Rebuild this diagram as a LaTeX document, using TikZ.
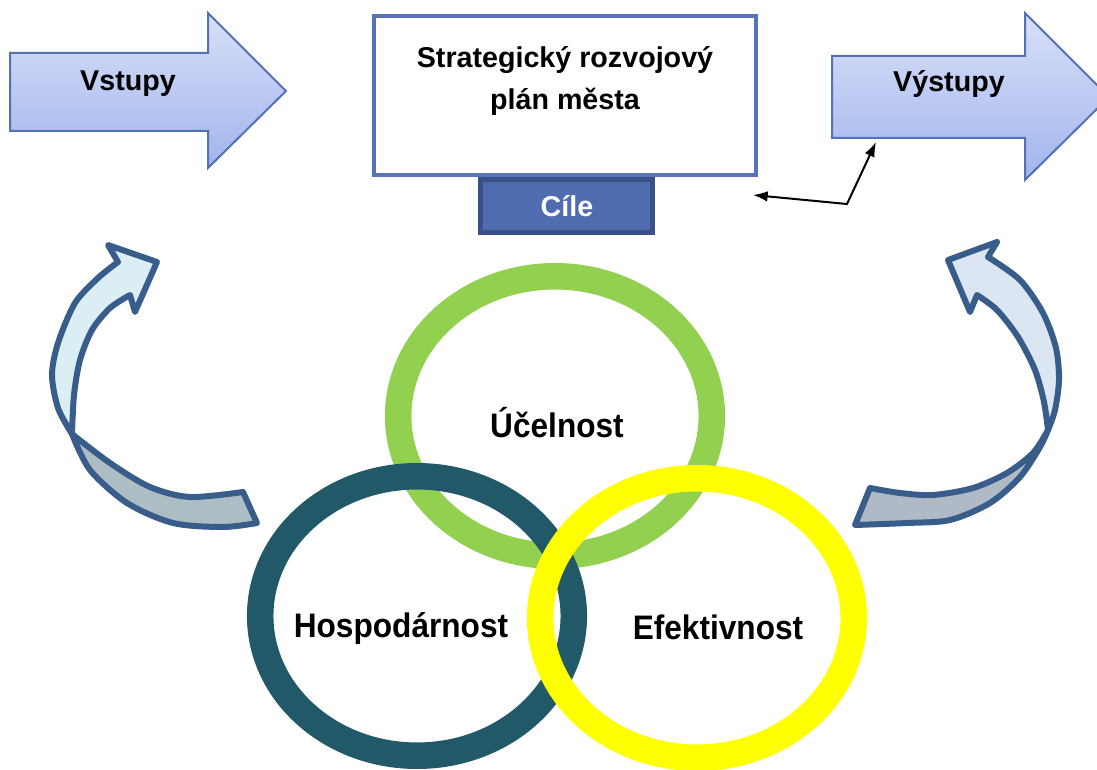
\documentclass[tikz,border=0pt]{standalone}
\usepackage{fontspec}
\setmainfont{Liberation Sans}
\newfontfamily\narrowfont[FakeStretch=0.93]{Liberation Sans}
\usetikzlibrary{arrows.meta}

\definecolor{arrowline}{RGB}{84,112,182}
\definecolor{arrowtop}{RGB}{216,224,248}
\definecolor{arrowbot}{RGB}{162,180,236}
\definecolor{boxline}{RGB}{88,116,184}
\definecolor{goalfill}{RGB}{80,108,176}
\definecolor{goalline}{RGB}{58,80,134}
\definecolor{curveline}{RGB}{56,93,138}
\definecolor{lightcyan}{RGB}{218,238,243}
\definecolor{lightlav}{RGB}{220,230,242}
\definecolor{graycyan}{RGB}{172,190,196}
\definecolor{graylav}{RGB}{176,186,198}
\definecolor{ringgreen}{RGB}{146,208,80}
\definecolor{ringteal}{RGB}{33,89,104}
\definecolor{ringyellow}{RGB}{255,255,0}

\begin{document}
\begin{tikzpicture}[x=0.75pt,y=-0.75pt,
  bigarrow/.style={draw=arrowline, line width=1.5pt, top color=arrowtop, bottom color=arrowbot, line join=miter},
  lbl/.style={font=\bfseries\fontsize{21.5}{31.5}\selectfont, anchor=base, inner sep=0pt},
  ringshape/.style={line width=19.9pt},
  ringlbl/.style={font=\narrowfont\bfseries\fontsize{25.5}{30}\selectfont, anchor=base, inner sep=0pt},
  curvefill/.style={draw=curveline, line width=4.5pt, line join=round},
  conn/.style={black, line width=1.5pt, {Latex[length=11pt,width=8pt]}-{Latex[length=11pt,width=8pt]}}
]
\useasboundingbox (0,0) rectangle (1097,770);

% input / output arrows
\path[bigarrow] (10,53) -- (208,53) -- (208,13) -- (286,91) -- (208,168) -- (208,131) -- (10,131) -- cycle;
\node[lbl] (vin) at (128,91) {Vstupy};
\path[bigarrow] (832,56) -- (1025,56) -- (1025,13) -- (1109,97) -- (1025,180) -- (1025,138) -- (832,138) -- cycle;
\node[lbl] (vout) at (949,92) {Výstupy};

% plan box
\node[draw=boxline, line width=3pt, fill=white, minimum width=286.5pt, minimum height=119.25pt, inner sep=0pt] (plan) at (565,95.5) {};
\node[lbl, align=center] (plantext) at (565,110) {Strategický rozvojový\\plán města};
\node[draw=goalline, fill=goalfill, line width=3.75pt, minimum width=129pt, minimum height=39.75pt, inner sep=0pt] (goal) at (566.5,206) {};
\node[lbl, text=white] (goaltext) at (567,217) {Cíle};

% connector
\coordinate (tipL) at (753,195);
\coordinate (bend) at (847,204);
\coordinate (tipR) at (876,142);
\draw[conn] (tipL) -- (bend) -- (tipR);

% curved arrows
\path[curvefill, fill=graycyan] plot[smooth] coordinates {(72,434) (90,470) (127,503) (173,523) (223,527) (257,523)} -- (243,492) -- plot[smooth] coordinates {(243,492) (190,497) (150,487) (110,463) (72,434)} -- cycle;
\path[curvefill, fill=lightcyan] (118,262) -- (108,245) -- (157,262) -- (135,312) -- plot[smooth] coordinates {(130,295) (110,308) (92,330) (80,360) (74,395) (72,434)} -- plot[smooth] coordinates {(72,434) (58,408) (52,375) (58,343) (75,303) (98,278) (118,262)} -- cycle;

\path[curvefill, fill=graylav] plot[smooth] coordinates {(1048,430) (1040,447) (1020,477) (990,503) (950,520) (907,523) (855,525)} -- (870,488) -- plot[smooth] coordinates {(870,488) (900,493) (933,495) (973,488) (1007,473) (1033,453) (1048,430)} -- cycle;
\path[curvefill, fill=lightlav] (988,257) -- (997,242) -- (948,260) -- (970,312) -- plot[smooth] coordinates {(977,295) (997,310) (1018,337) (1035,370) (1044,402) (1048,430)} -- plot[smooth] coordinates {(1048,430) (1055,410) (1059,380) (1056,348) (1043,313) (1020,280) (988,257)} -- cycle;

% rings
\draw[ringshape, ringgreen] (555,416) ellipse [x radius=117.6pt, y radius=104.8pt];
\draw[ringshape, ringteal] (417,616) ellipse [x radius=117.6pt, y radius=104.8pt];
\draw[ringshape, ringyellow] (697,618) ellipse [x radius=117.6pt, y radius=104.8pt];
\node[ringlbl] (ucel) at (557,437) {Účelnost};
\node[ringlbl] (hosp) at (401,637) {Hospodárnost};
\node[ringlbl] (efek) at (718,639) {Efektivnost};
\end{tikzpicture}
\end{document}
